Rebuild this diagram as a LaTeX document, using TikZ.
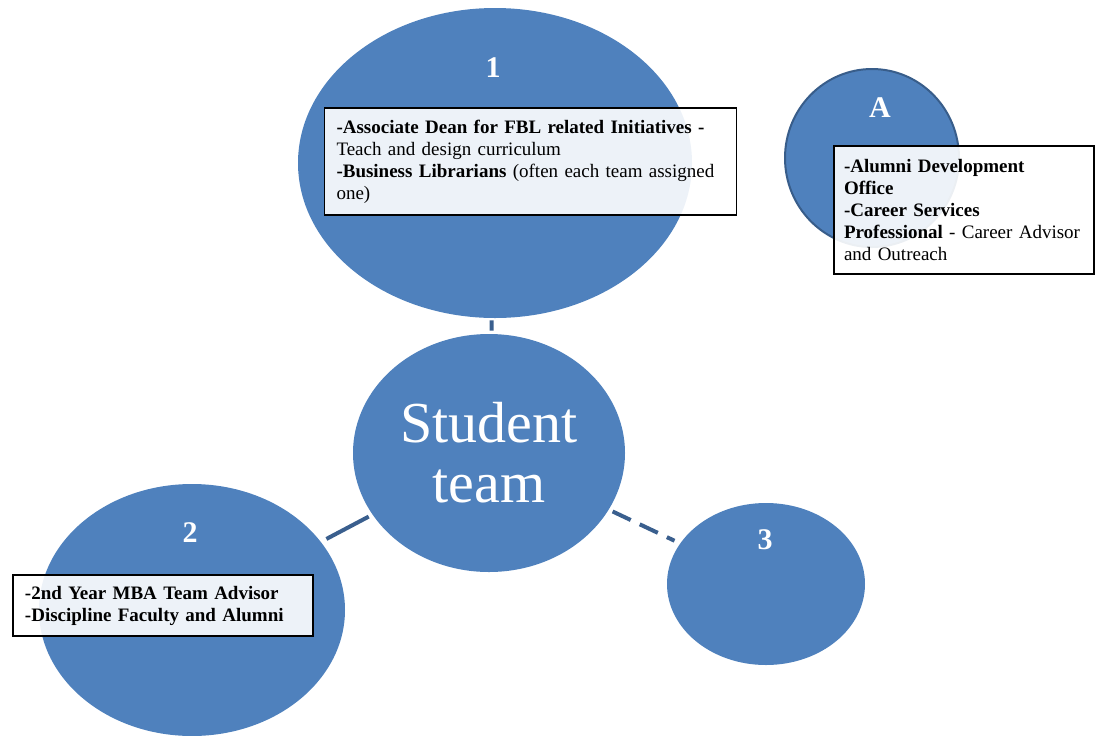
\documentclass[tikz,border=0pt]{standalone}
\usepackage{fontspec}
\setmainfont{Liberation Serif}
\usepackage{tikz}
\usetikzlibrary{shapes.geometric,positioning}
\definecolor{bubblefill}{HTML}{4F81BD}
\definecolor{bubbleline}{HTML}{385D8A}
\definecolor{linkcol}{HTML}{3A5F8E}
\tikzset{
    bubble/.style={ellipse, fill=bubblefill, inner sep=0pt},
    num/.style={text=white, font=\fontsize{15}{18}\selectfont\bfseries},
    infobox/.style={draw=black, line width=0.8pt, fill=white, fill opacity=0.9, text opacity=1,
                    align=left, inner xsep=6pt, inner ysep=3pt,
                    font=\fontsize{9.5}{11}\selectfont},
    link/.style={draw=linkcol, line width=2pt, shorten <=2pt, shorten >=3pt},
    dashlink/.style={link, dash pattern=on 10pt off 5pt}
}

\begin{document}
\begin{tikzpicture}[x=0.5pt, y=-0.5pt]
    \useasboundingbox (0,0) rectangle (1099,735);

    % Nodes
    \node[bubble, minimum width=197pt, minimum height=155pt] (one) at (495,163) {};
    \node[bubble, minimum width=136pt, minimum height=119pt, text=white, align=center,
          font=\fontsize{29}{30}\selectfont] (team) at (489,453) {Student\\team};
    \node[bubble, minimum width=153pt, minimum height=126pt] (two) at (192,610) {};
    \node[bubble, minimum width=99pt, minimum height=81pt] (three) at (766,584) {};
    \node[bubble, draw=bubbleline, line width=1pt, minimum width=87pt, minimum height=89pt] (alumni) at (872,158) {};

    % labels
    \node[num] (onelbl) at (493,68) {1};
    \node[num] (alumnilbl) at (880,108) {A};
    \node[num] (twolbl) at (190,533) {2};
    \node[num] (threelbl) at (765,540) {3};

    % text boxes
    \node[infobox, text width=194pt, minimum height=53.5pt] (onebox) at (530.5,161.5)
        {\textbf{-Associate Dean for FBL related Initiatives -}\\
         Teach and design curriculum\\
         \textbf{-Business Librarians} (often each team assigned\\
         one)};
    \node[infobox, inner xsep=5pt, text width=120pt, minimum height=64pt] (alumnibox) at (964,210)
        {\textbf{-Alumni Development}\\
         \textbf{Office}\\
         \textbf{-Career Services}\\
         \textbf{Professional} - Career Advisor\\
         and Outreach};
    \node[infobox, text width=138pt, minimum height=30.5pt] (twobox) at (163,605.5)
        {\textbf{-2nd Year MBA Team Advisor}\\
         \textbf{-Discipline Faculty and Alumni}};

    % edges
    \draw[dashlink, shorten <=1pt, shorten >=1.5pt] (one) -- (team);
    \draw[link] (team) -- (two);
    \draw[dashlink] (team) -- (three);
\end{tikzpicture}
\end{document}
